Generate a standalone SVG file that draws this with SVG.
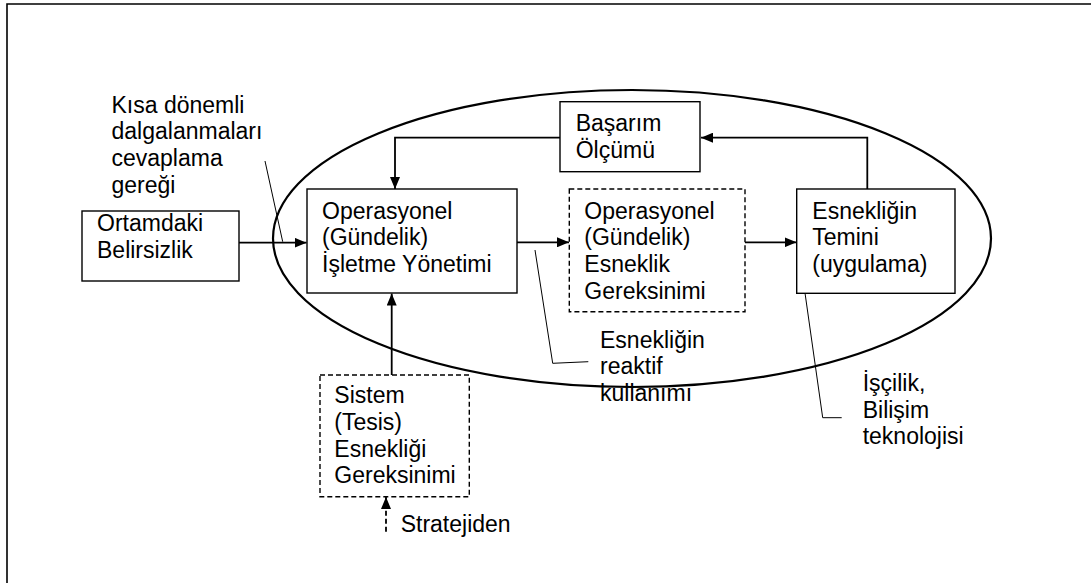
<svg xmlns="http://www.w3.org/2000/svg" width="1091" height="583" viewBox="0 0 1091 583">
<style>
text{font-family:"Liberation Sans",Arial,sans-serif;font-size:23px;fill:#000}
.box{fill:#fff;stroke:#000;stroke-width:1.4}
.dbox{fill:#fff;stroke:#000;stroke-width:1.4;stroke-dasharray:5,3}
.conn{fill:none;stroke:#000;stroke-width:1.8}
.thin{fill:none;stroke:#000;stroke-width:1}
</style>
<defs>
<marker id="ah" viewBox="0 0 12 10" refX="12" refY="5" markerWidth="12" markerHeight="10" markerUnits="userSpaceOnUse" orient="auto">
<path d="M0,0 L12,5 L0,10 z" fill="#000"/>
</marker>
</defs>
<rect width="1091" height="583" fill="#fff"/>
<path d="M7,583 V4 H1091" fill="none" stroke="#000" stroke-width="1.6"/>

<g id="label-kisa">
<text x="111.5" y="112.7">Kısa dönemli</text>
<text x="111.5" y="139.4">dalgalanmaları</text>
<text x="111.5" y="166.1">cevaplama</text>
<text x="111.5" y="192.8">gereği</text>
</g>
<g id="label-reaktif">
<text x="600" y="347.7">Esnekliğin</text>
<text x="600" y="374.4">reaktif</text>
<text x="600" y="401.1">kullanımı</text>
</g>
<g id="label-iscilik">
<text x="862.7" y="391">İşçilik,</text>
<text x="862.7" y="417.5">Bilişim</text>
<text x="862.7" y="444">teknolojisi</text>
</g>
<g id="label-stratejiden">
<text x="400.7" y="532.3">Stratejiden</text>
</g>

<ellipse id="system-ellipse" cx="632" cy="238.5" rx="359" ry="148.5" fill="none" stroke="#000" stroke-width="2.2"/>

<g id="connectors">
<line class="thin" x1="265" y1="161" x2="282.7" y2="241.7"/>
<polyline class="thin" points="535,250 552.7,363.3 588.3,361.7"/>
<polyline class="thin" points="805,293 822.7,417.7 841.7,417.7"/>
<line class="conn" x1="239" y1="242.7" x2="306.5" y2="242.7" marker-end="url(#ah)"/>
<line class="conn" x1="517" y1="242.3" x2="569" y2="242.3" marker-end="url(#ah)"/>
<line class="conn" x1="745" y1="242.3" x2="796.5" y2="242.3" marker-end="url(#ah)"/>
<polyline class="conn" points="560,137.7 395,137.7 395,189" marker-end="url(#ah)"/>
<polyline class="conn" points="867.3,189 867.3,137.7 701,137.7" marker-end="url(#ah)"/>
<line class="conn" x1="391.7" y1="375" x2="391.7" y2="293.5" marker-end="url(#ah)"/>
<line class="conn" x1="386" y1="531.7" x2="386" y2="497" stroke-dasharray="5,3" marker-end="url(#ah)"/>
</g>

<g id="node-ortamdaki">
<rect class="box" x="82" y="211" width="157" height="70"/>
<text x="97" y="231">Ortamdaki</text>
<text x="97" y="258">Belirsizlik</text>
</g>
<g id="node-operasyonel-yonetim">
<rect class="box" x="307" y="189" width="210" height="104"/>
<text x="322" y="218.5">Operasyonel</text>
<text x="322" y="245.2">(Gündelik)</text>
<text x="322" y="271.9">İşletme Yönetimi</text>
</g>
<g id="node-basarim">
<rect class="box" x="560" y="101.7" width="140" height="70"/>
<text x="575.7" y="131">Başarım</text>
<text x="575.7" y="158">Ölçümü</text>
</g>
<g id="node-esneklik-gereksinimi">
<rect class="dbox" x="569.3" y="189" width="175.7" height="122.7"/>
<text x="584.3" y="218.5">Operasyonel</text>
<text x="584.3" y="245.2">(Gündelik)</text>
<text x="584.3" y="271.9">Esneklik</text>
<text x="584.3" y="298.6">Gereksinimi</text>
</g>
<g id="node-esneklik-temini">
<rect class="box" x="796.7" y="189" width="158.3" height="104.3"/>
<text x="812.3" y="218.5">Esnekliğin</text>
<text x="812.3" y="245.2">Temini</text>
<text x="812.3" y="271.9">(uygulama)</text>
</g>
<g id="node-sistem">
<rect class="dbox" x="320" y="375" width="149.3" height="121.7"/>
<text x="334.3" y="403.3">Sistem</text>
<text x="334.3" y="430">(Tesis)</text>
<text x="334.3" y="456.7">Esnekliği</text>
<text x="334.3" y="483.4">Gereksinimi</text>
</g>
</svg>
